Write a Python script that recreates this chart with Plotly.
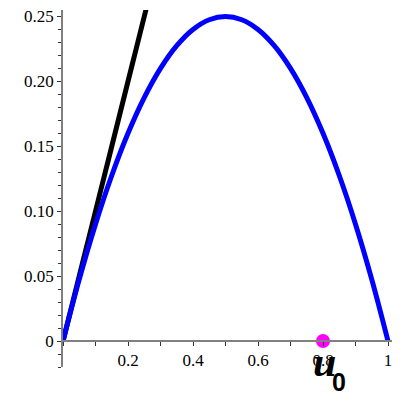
import plotly.graph_objects as go

# Blue curve samples (u, f(u))
u_vals = [0, 0.05, 0.1, 0.15, 0.2, 0.25, 0.3, 0.35, 0.4, 0.45, 0.5,
          0.55, 0.6, 0.65, 0.7, 0.75, 0.8, 0.85, 0.9, 0.95, 1.0]
f_vals = [0, 0.0475, 0.09, 0.1275, 0.16, 0.1875, 0.21, 0.2275, 0.24, 0.2475, 0.25,
          0.2475, 0.24, 0.2275, 0.21, 0.1875, 0.16, 0.1275, 0.09, 0.0475, 0]
# Black tangent line
tan_x = [0, 0.27]
tan_y = [0, 0.27]
# Point u0
pt_x = [0.8]
pt_y = [0]
xtick_vals = [0.2, 0.4, 0.6, 0.8, 1.0]
xtick_text = ["0.2", "0.4", "0.6", "0.8", "1"]
ytick_vals = [0, 0.05, 0.10, 0.15, 0.20, 0.25]
ytick_text = ["0", "0.05", "0.10", "0.15", "0.20", "0.25"]

fig = go.Figure()
fig.add_trace(go.Scatter(x=tan_x, y=tan_y, mode="lines",
                         line=dict(color="black", width=5)))
fig.add_trace(go.Scatter(x=u_vals, y=f_vals, mode="lines",
                         line=dict(color="#0000ff", width=5, shape="spline")))
fig.add_trace(go.Scatter(x=pt_x, y=pt_y, mode="markers",
                         marker=dict(color="#ff00ff", size=14), cliponaxis=False))

fig.add_annotation(x=0.8, y=0, xref="x", yref="y", yanchor="middle", xanchor="center",
                   yshift=-21, xshift=1, showarrow=False,
                   text="<b><i>u</i></b>",
                   font=dict(family="Liberation Serif", size=42, color="black"))
fig.add_annotation(x=0.8, y=0, xref="x", yref="y", yanchor="middle", xanchor="center",
                   yshift=-41, xshift=16, showarrow=False,
                   text="<b>0</b>",
                   font=dict(family="Liberation Sans", size=25, color="black"))

axis_color = "#808080"
serif = "Liberation Serif"
fig.update_layout(
    width=400, height=400,
    margin=dict(l=55, r=16, t=2, b=41, autoexpand=False),
    paper_bgcolor="white", plot_bgcolor="white",
    showlegend=False,
    font=dict(family=serif, size=17, color="black"),
    xaxis=dict(range=[0, 1.0123], showgrid=False, zeroline=False, automargin=False,
               showline=True, linecolor=axis_color, linewidth=1.5,
               anchor="free", position=0.0728, ticklabeloverflow="allow",
               tickmode="array", tickvals=xtick_vals, ticktext=xtick_text,
               ticks="outside", ticklen=4, tickcolor="#333333", tickwidth=1,
               minor=dict(dtick=0.1, tick0=0, ticks="outside", ticklen=4,
                          tickcolor="#333333", tickwidth=1),
               tickfont=dict(family=serif, size=17, color="black")),
    yaxis=dict(range=[-0.02, 0.255], showgrid=False, zeroline=False, automargin=False,
               showline=True, linecolor=axis_color, linewidth=1.5,
               ticklabeloverflow="allow",
               tickmode="array", tickvals=ytick_vals, ticktext=ytick_text,
               ticks="outside", ticklen=4, tickcolor="#333333", tickwidth=1,
               minor=dict(dtick=0.01, tick0=0, ticks="outside", ticklen=3,
                          tickcolor="#333333", tickwidth=1),
               tickfont=dict(family=serif, size=17, color="black")),
)
fig.write_html("out.html")
